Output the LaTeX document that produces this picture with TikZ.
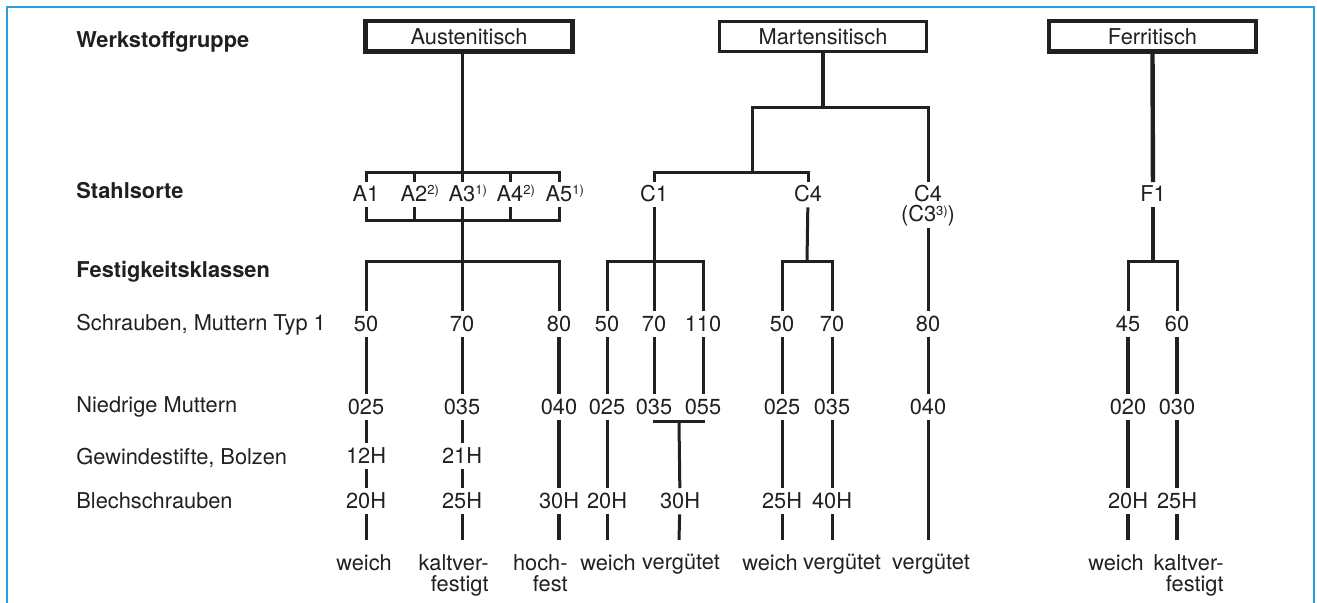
\documentclass[tikz,border=0pt]{standalone}
\usepackage{fontspec}
\setmainfont{TeX Gyre Heros}
\usepackage{xcolor}
\definecolor{ink}{RGB}{35,31,32}
\definecolor{rahmenblau}{RGB}{40,160,220}
\newcommand{\fnhoch}[1]{\raisebox{3.4pt}{\fontsize{6.5pt}{6.5pt}\selectfont #1}}

\begin{document}
\begin{tikzpicture}[x=0.5pt,y=-0.5pt,
  every node/.style={font=\fontsize{10.9pt}{10.5pt}\selectfont, text=ink},
  gruppe/.style={draw=ink, line width=2.2pt, minimum width=103.6pt, minimum height=15.2pt,
    inner sep=0pt, text height=7.7pt, text depth=0pt},
  sorte/.style={anchor=base, inner sep=1.75pt, text height=7.7pt, text depth=1pt},
  wert/.style={anchor=base, inner sep=2.5pt, text height=7.7pt, text depth=0pt},
  zeile/.style={anchor=base west, inner sep=0pt},
  kopf/.style={zeile, font=\fontsize{10.9pt}{10.5pt}\selectfont\bfseries},
  zustand/.style={anchor=north, inner sep=0pt},
  linie/.style={draw=ink, line width=1.5pt},
  dick/.style={draw=ink, line width=2.2pt},
  rahmen/.style={draw=rahmenblau, line width=1pt}]
\useasboundingbox (0,0) rectangle (1317,603);
\draw[rahmen] (7,603) -- (7,7) -- (1314,7) -- (1314,603);

% Zeilenkoepfe
\node[kopf] (h-gruppe) at (76,48) {Werkstoffgruppe};
\node[kopf] (h-sorte) at (76,199) {Stahlsorte};
\node[kopf] (h-klasse) at (76,278) {Festigkeitsklassen};
\node[zeile] (h-schr) at (76,331) {Schrauben, Muttern Typ 1};
\node[zeile] (h-nied) at (76,413) {Niedrige Muttern};
\node[zeile] (h-gew) at (76,465) {Gewindestifte, Bolzen};
\node[zeile] (h-blech) at (76,509) {Blechschrauben};

% Werkstoffgruppen
\node[gruppe] (aust) at (469,36.5) {Austenitisch};
\node[gruppe, line width=1.5pt] (mart) at (823,36.5) {Martensitisch};
\node[gruppe] (ferr) at (1152.5,36.5) {Ferritisch};

% Stahlsorten
\node[sorte] (a1) at (366,201.5) {A1};
\node[sorte] (a2) at (414,201.5) {A2\rlap{\fnhoch{2)}}};
\node[sorte] (a3) at (462,201.5) {A3\rlap{\fnhoch{1)}}};
\node[sorte] (a4) at (510,201.5) {A4\rlap{\fnhoch{2)}}};
\node[sorte] (a5) at (559,201.5) {A5\rlap{\fnhoch{1)}}};
\node[sorte] (c1) at (654,201.5) {C1};
\node[sorte] (c4) at (808,201.5) {C4};
\node[sorte] (c4b) at (928,201.5) {C4};
\node[sorte] (c3) at (928,222) {(C3\fnhoch{3)})};
\node[sorte] (f1) at (1153,201.5) {F1};

% Festigkeitsklassen
\foreach \c/\x/\s/\n in {aw/366/50/025, ak/462/70/035, ah/559/80/040,
    cw/607/50/025, cv/654/70/035, cx/703/110/055, dw/782/50/025, dv/832/70/035,
    ev/928/80/040, fw/1128/45/020, fk/1177/60/030}
{
  \node[wert] (\c-s) at (\x,332) {\s};
  \node[wert] (\c-n) at (\x,415) {\n};
  \coordinate (\c-e) at (\x,540);
}
\node[wert] (aw-g) at (366,464) {12H};
\node[wert] (ak-g) at (462,464) {21H};
\foreach \c/\x/\t in {aw/366/20H, ak/462/25H, ah/559/30H, cw/607/20H, cv/680/30H,
    dw/782/25H, dv/832/40H, fw/1128/20H, fk/1177/25H}
  \node[wert] (\c-b) at (\x,509) {\t};
\coordinate (cj) at (679,422);
\coordinate (cj-e) at (679,540);

% Austenitisch
\coordinate (abr) at (462,173);
\coordinate (abl) at (462,221);
\coordinate (afk) at (462,262);
\draw[linie] (aust.south -| abr) -- (abr);
\draw[linie] (a1.north) |- (abr) -| (a5.north);
\draw[linie] (a1.south) |- (abl) -| (a5.south);
\foreach \n in {a2,a3,a4} {
  \draw[linie] (\n.north) -- (\n.north |- abr);
  \draw[linie] (\n.south) -- (\n.south |- abl);
}
\draw[linie] (abl) -- (ak-s);
\draw[linie] (aw-s.north) |- (afk) -| (ah-s.north);

% Martensitisch
\coordinate (mj) at (823,108);
\coordinate (cbr) at (752,173);
\coordinate (cfk) at (654,262);
\coordinate (dfk) at (807,262);
\draw[dick] (mart.south) -- (mj);
\draw[linie] (cbr) |- (mj) -| (c4b.north);
\draw[linie] (c1.north) |- (cbr) -| (c4.north);
\draw[linie] (c1) -- (cv-s);
\draw[linie] (cw-s.north) |- (cfk) -| (cx-s.north);
\draw[linie] (c4) -- (dfk);
\draw[linie] (dw-s.north) |- (dfk) -| (dv-s.north);
\draw[linie] (c3) -- (ev-s);

% Ferritisch
\coordinate (ffk) at (1153,262);
\draw[dick] (ferr.south) -- (f1);
\draw[dick] (f1) -- (ffk);
\draw[linie] (fw-s.north) |- (ffk) -| (fk-s.north);

% Saeulen
\foreach \c in {aw,ak}
  \draw[linie] (\c-s) -- (\c-n) -- (\c-g) -- (\c-b) -- (\c-e);
\foreach \c in {cw,dw,dv}
  \draw[linie] (\c-s) -- (\c-n) -- (\c-b) -- (\c-e);
\draw[linie, line width=1.9pt] (ah-s) -- (ah-n) -- (ah-b) -- (ah-e);
\foreach \c in {fw,fk}
  \draw[linie, line width=1.9pt] (\c-s) -- (\c-n) -- (\c-b) -- (\c-e);
\draw[linie] (cv-s) -- (cv-n);
\draw[linie] (cx-s) -- (cx-n);
\draw[linie] (cv-n.south) |- (cj) -| (cx-n.south);
\draw[linie] (cj) -- (cv-b) -- (cj-e);
\draw[linie] (ev-s) -- (ev-n) -- (ev-e);

% Zustand
\node[zustand] (z-aw) at (364,554) {weich};
\node[zustand, align=right, anchor=north east] (z-ak) at (489,554) {kaltver-\\festigt};
\node[zustand, align=right, anchor=north east] (z-ah) at (568,554) {hoch-\\fest};
\node[zustand] (z-cw) at (608,554) {weich};
\node[zustand] (z-cv) at (681,554) {vergütet};
\node[zustand] (z-dw) at (770,554) {weich};
\node[zustand] (z-dv) at (842,554) {vergütet};
\node[zustand] (z-ev) at (931,554) {vergütet};
\node[zustand] (z-fw) at (1116,554) {weich};
\node[zustand, align=right, anchor=north east] (z-fk) at (1224,554) {kaltver-\\festigt};
\end{tikzpicture}
\end{document}
